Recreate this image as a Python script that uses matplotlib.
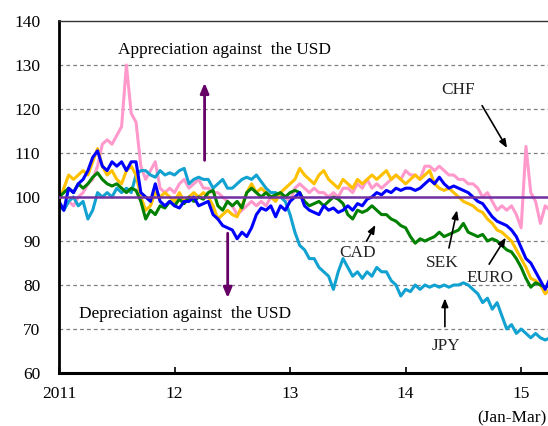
import numpy as np
import matplotlib
matplotlib.use("Agg")
import matplotlib.pyplot as plt

plt.rcParams['font.family'] = ['Liberation Serif', 'DejaVu Serif']

# semi-monthly observations, Jan 2011 - Mar 2015 (index, Jan 2011 = 100)
dates = 2011 + np.arange(103) / 24

chf = [98, 97, 99, 98, 100, 101, 103, 104, 107, 112, 113, 112,
       114, 116, 130, 119, 117, 107, 104, 106, 108, 102, 101, 102,
       101, 103, 104, 102, 103, 104, 102, 102, 101, 101, 100, 99,
       98, 96, 97, 98, 99, 98, 99, 98, 100, 100, 101, 100,
       99, 102, 103, 102, 101, 102, 101, 101, 100, 101, 100, 102,
       102, 101, 103, 102, 104, 102, 103, 102, 103, 104, 105, 104,
       106, 105, 105, 104, 107, 107, 106, 107, 106, 105, 105, 104,
       104, 103, 103, 102, 100, 101, 99, 97, 98, 97, 98, 96,
       93, 111.5, 101, 99, 94, 98, 97]

jpy = [98, 97, 99, 100, 98, 99, 95, 97, 101, 100, 101, 100,
       102, 101, 102, 101, 105, 106, 106, 105, 104.5, 106, 105, 105.5,
       105, 106, 106.5, 103, 104, 104.5, 104, 104, 102, 103, 104, 102,
       102, 103, 104, 104.5, 104, 105, 103.5, 102, 101, 101, 100, 99,
       96, 92, 89, 88, 86, 86, 84, 83, 82, 79, 83, 86,
       84, 82, 83, 81.5, 83, 82, 84, 83, 83, 81, 80, 77.5,
       79, 78.5, 80, 79, 80, 79.5, 80, 79.5, 80, 79.5, 80, 80,
       80.5, 80, 79, 78, 76, 77, 74.5, 76, 73, 70, 71, 69,
       70, 69, 68, 69, 68, 67.5, 68]

euro = [99, 102, 105, 104, 105, 106, 105, 108, 111, 107, 105, 106,
        104, 103, 106, 107, 105, 100, 97, 98, 101, 100, 101, 100,
        99, 101, 99, 100, 101, 100, 101, 100, 98, 95, 96, 97,
        96, 95.5, 98, 101, 103, 101, 102, 101, 100, 99, 101, 102,
        103, 104, 106.5, 105, 104, 103, 105, 106, 104, 103, 102, 104,
        103, 102, 104, 103, 104, 105, 104, 105, 106, 104, 105, 104,
        103, 104, 105, 104, 105, 106, 103, 102, 101.5, 102, 101, 100,
        99, 98.5, 98, 97, 96.5, 95, 94, 92.5, 92, 91, 90, 88,
        86, 84, 81.5, 81, 80, 78, 79]

cad = [100, 101, 102, 101, 103, 102, 103, 104.5, 105.5, 104, 103, 102.5,
       103, 102, 101, 102, 101.5, 99, 95, 97, 96, 98, 97.5, 99,
       98, 99.5, 98.5, 100, 99, 100, 99.5, 101, 101.5, 98, 97, 99,
       98, 99, 97.5, 101, 102, 101, 100, 101, 100, 100.5, 101, 100,
       101, 101.5, 101, 99, 98, 98.5, 99, 98, 99, 100, 99.5, 98.5,
       96, 95, 97, 96.5, 97, 98, 97, 96, 96, 95, 94.5, 93.5,
       93, 91, 89.5, 90.5, 90, 90.5, 91, 92, 91, 91.5, 92, 92.5,
       94, 92, 91.5, 91, 91.5, 90, 90.5, 90, 89, 88, 87.5, 86,
       84, 81.5, 79.5, 80.5, 80, 79.5, 80]

sek = [99, 97, 102, 101, 103, 104, 106, 109, 110.5, 107, 106, 108,
       107, 108, 106, 108, 108, 101, 100, 99, 103, 99, 98, 99,
       98, 97.5, 99, 99, 100, 98, 98.5, 99, 96, 95, 93.5, 93,
       92.5, 90.5, 92, 91, 93, 96, 97.5, 97, 98, 95.5, 98, 97,
       99, 100, 101, 98, 97, 96.5, 96, 98, 97, 97.5, 96.5, 97,
       98, 97, 98.5, 98, 99.5, 100, 101, 100.5, 101.5, 101, 102, 101.5,
       102, 102, 101.5, 102, 103, 104, 103, 104.5, 103, 102, 102.5, 102,
       101.5, 101, 100, 99, 98.5, 97, 95.5, 94.5, 94, 93.5, 92.5, 91,
       88.5, 86, 85, 83, 81, 79, 81.5]

series = [("CHF", chf, "#FF99CC"), ("JPY", jpy, "#12A2D2"),
          ("EURO", euro, "#FFC000"), ("CAD", cad, "#008000"),
          ("SEK", sek, "#0000FF")]

yticks = [60, 70, 80, 90, 100, 110, 120, 130, 140]
xticks = [2011, 2012, 2013, 2014, 2015]
xlabels = ["2011", "12", "13", "14", "15"]

fig = plt.figure(figsize=(5.48, 4.26), dpi=100)
ax = fig.add_axes([0.1077, 0.1244, 0.896, 0.8263])

for y in [70, 80, 90, 110, 120, 130]:
    ax.axhline(y, color="#808080", lw=0.9, ls=(0, (3, 2.5)), zorder=1)

for name, vals, col in series:
    ax.plot(dates, vals, color=col, lw=2.2, zorder=2)

ax.axhline(100, color="#7030A0", lw=1.8, zorder=3)

ax.set_xlim(2011, 2015.25)
ax.set_ylim(60, 140)
ax.set_xticks(xticks)
ax.set_xticklabels(xlabels)
ax.set_yticks(yticks)
ax.tick_params(axis="x", direction="in", length=4, width=1.2, pad=9, labelsize=12.5)
ax.tick_params(axis="y", length=0, pad=13.5, labelsize=12.5)

ax.spines["left"].set_linewidth(2)
ax.spines["bottom"].set_linewidth(2.2)
ax.spines["top"].set_linewidth(1)
ax.spines["top"].set_color("#333333")
ax.spines["right"].set_visible(False)

arrow_purple = dict(arrowstyle="-|>,head_length=0.6,head_width=0.25", color="#660066", lw=2)
ax.annotate("", xy=(2012.26, 126.6), xytext=(2012.26, 107.7), arrowprops=arrow_purple)
ax.annotate("", xy=(2012.46, 76.4), xytext=(2012.46, 92.4), arrowprops=arrow_purple)
ax.text(2012.43, 133.4, "Appreciation against  the USD", ha="center", va="center", fontsize=12.4)
ax.text(2012.09, 73.5, "Depreciation against  the USD", ha="center", va="center", fontsize=12.4)

arrow_black = dict(arrowstyle="-|>,head_length=0.5,head_width=0.2", color="black", lw=1.2)
labels = [("CHF", (2014.45, 124.3), (2014.65, 121.3), (2014.89, 110.6)),
          ("CAD", (2013.58, 87.2), (2013.65, 89.4), (2013.75, 94.2)),
          ("SEK", (2014.32, 84.9), (2014.37, 87.8), (2014.45, 97.6)),
          ("EURO", (2014.73, 81.5), (2014.71, 84.2), (2014.88, 91.3)),
          ("JPY", (2014.35, 66.2), (2014.34, 69.9), (2014.34, 77.6))]
for txt, tpos, tail, head in labels:
    ax.text(tpos[0], tpos[1], txt, ha="center", va="center", fontsize=12.4, color="#222222")
    ax.annotate("", xy=head, xytext=tail, arrowprops=arrow_black)

ax.text(2015.22, 49.6, "(Jan-Mar)", ha="right", va="center", fontsize=12.4, clip_on=False)

fig.savefig("out.png", dpi=100)
